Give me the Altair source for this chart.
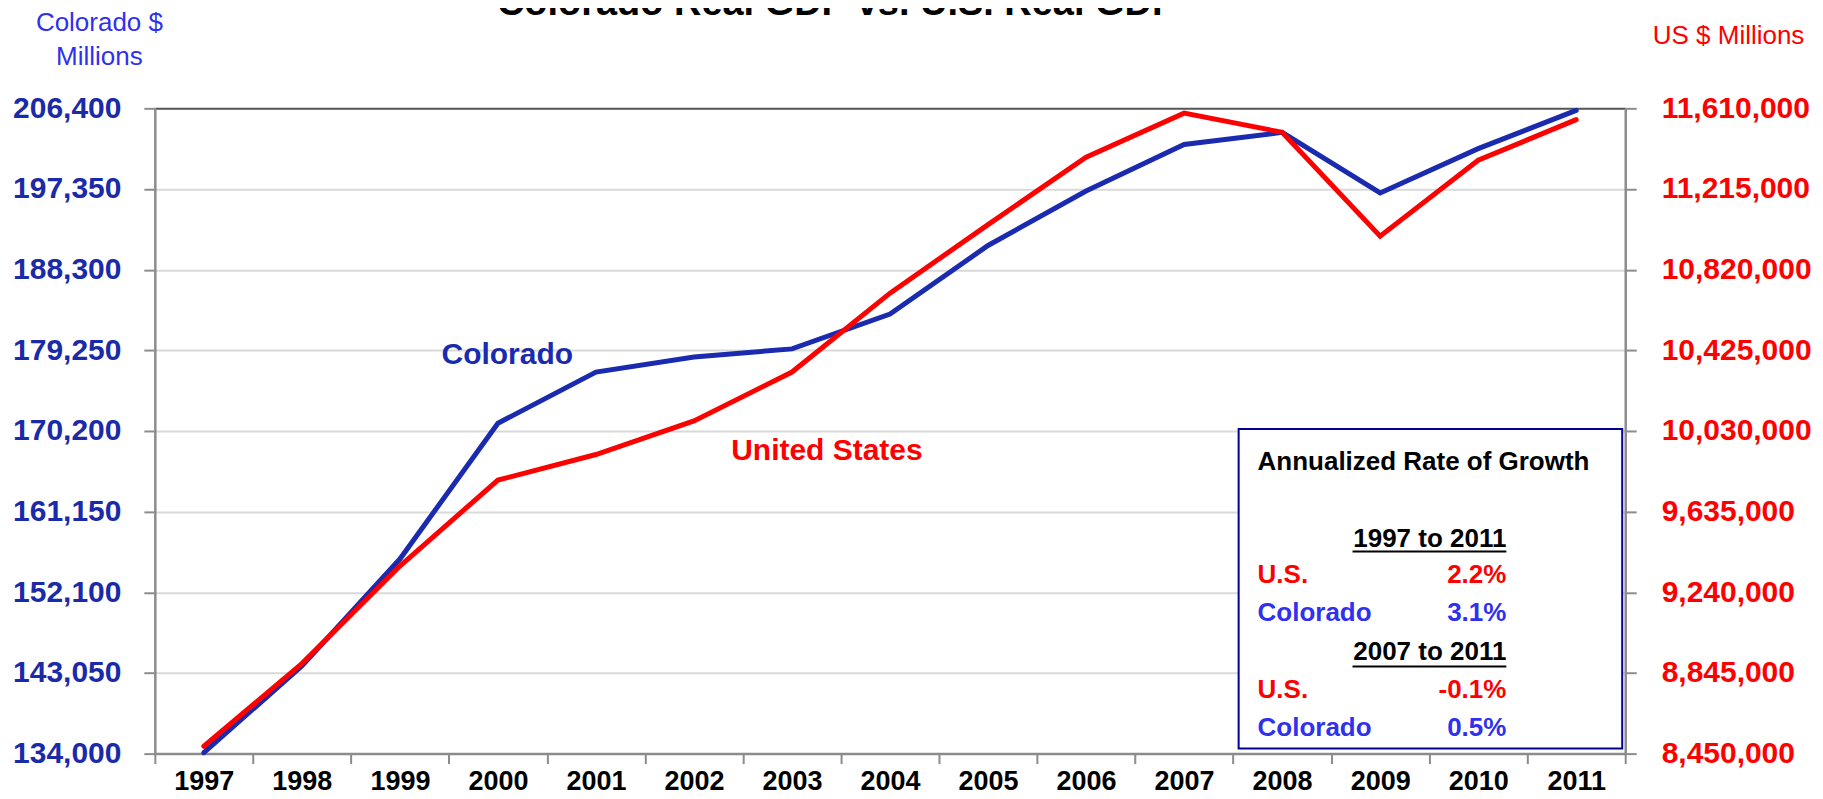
import altair as alt
import pandas as pd

# ---------------- data ----------------
years = [1997, 1998, 1999, 2000, 2001, 2002, 2003, 2004, 2005, 2006, 2007, 2008, 2009, 2010, 2011]
colorado_gdp = [134100, 143840, 155830, 171070, 176810, 178500, 179410, 183320,
                191010, 197130, 202340, 203700, 196900, 201880, 206170]
us_gdp = [8486000, 8891000, 9368600, 9789300, 9914600, 10079400, 10318600, 10705000,
          11040600, 11370300, 11586500, 11492600, 10983800, 11355600, 11554700]

left_ticks = [134000, 143050, 152100, 161150, 170200, 179250, 188300, 197350, 206400]
right_ticks = [8450000, 8845000, 9240000, 9635000, 10030000, 10425000, 10820000, 11215000, 11610000]

title_text = "Colorado Real GDP vs. U.S. Real GDP"
box_title = "Annualized Rate of Growth"
period_labels = ["1997 to 2011", "2007 to 2011"]
row_names = ["U.S.", "Colorado", "U.S.", "Colorado"]
row_rates = ["2.2%", "3.1%", "-0.1%", "0.5%"]

df = pd.DataFrame({"year": years, "colorado": colorado_gdp, "us": us_gdp})

FONT = "Liberation Sans"
DARK_BLUE = "#1A2BB0"
BLUE = "#3030F0"
RED = "#FF0000"
GRAY = "#8C8C8C"

W, H = 1472, 646

x_enc = alt.X(
    "year:O",
    bandPosition=0.5,
    scale=alt.Scale(type="band", paddingInner=0, paddingOuter=0),
    axis=alt.Axis(
        tickBand="extent", labelAngle=0,
        labelFont=FONT, labelFontSize=27, labelFontWeight="bold", labelColor="black",
        labelBaseline="alphabetic", labelPadding=26, labelOverlap=False,
        tickSize=10, tickColor=GRAY, tickWidth=2,
        domainColor=GRAY, domainWidth=2.5, grid=False, title=None,
    ),
)

co_line = alt.Chart(df).mark_line(color=DARK_BLUE, strokeWidth=5, strokeCap="round", strokeJoin="miter").encode(
    x=x_enc,
    y=alt.Y(
        "colorado:Q",
        scale=alt.Scale(domain=[134000, 206400], nice=False, zero=False),
        axis=alt.Axis(
            orient="left", values=left_ticks, format=",d",
            labelFont=FONT, labelFontSize=30, labelFontWeight="bold", labelColor="#1A2AA8",
            labelPadding=23, tickSize=11, tickColor=GRAY, tickWidth=2,
            domainColor=GRAY, domainWidth=2.5,
            grid=True, gridWidth=2,
            gridColor={"condition": {"test": "datum.value >= 206400", "value": "#555555"}, "value": "#D9D9D9"},
            title=["Colorado $", "Millions"], titleAngle=0, titleX=-56, titleY=-78,
            titleAlign="center", titleBaseline="alphabetic", titleFont=FONT, titleFontSize=26,
            titleFontWeight="normal", titleColor=BLUE, titleLineHeight=34,
        ),
    ),
)

us_line = alt.Chart(df).mark_line(color=RED, strokeWidth=5, strokeCap="round", strokeJoin="miter").encode(
    x=x_enc,
    y=alt.Y(
        "us:Q",
        scale=alt.Scale(domain=[8450000, 11610000], nice=False, zero=False),
        axis=alt.Axis(
            orient="right", values=right_ticks, format=",d",
            labelFont=FONT, labelFontSize=30, labelFontWeight="bold", labelColor=RED,
            labelPadding=25, tickSize=11, tickColor=GRAY, tickWidth=2,
            domainColor=GRAY, domainWidth=2.5, grid=False,
            title="US $ Millions", titleAngle=0, titleX=103, titleY=-65,
            titleAlign="center", titleBaseline="alphabetic", titleFont=FONT, titleFontSize=26,
            titleFontWeight="normal", titleColor=RED,
        ),
    ),
)


def txt(text, x, y, color, size, weight="bold", align="left"):
    return alt.Chart(pd.DataFrame({"t": [text]})).mark_text(
        font=FONT, fontSize=size, fontWeight=weight, color=color, align=align, baseline="alphabetic"
    ).encode(text="t:N", x=alt.value(x), y=alt.value(y))


def hrule(x1, x2, y):
    return alt.Chart(pd.DataFrame({"a": [0]})).mark_rule(color="black", strokeWidth=2).encode(
        x=alt.value(x1), x2=alt.value(x2), y=alt.value(y)
    )


box = alt.Chart(pd.DataFrame({"a": [0]})).mark_rect(fill="white", stroke="#000099", strokeWidth=2).encode(
    x=alt.value(1085), x2=alt.value(1469), y=alt.value(321), y2=alt.value(641)
)

layers = [
    co_line, us_line, box,
    txt(title_text, 683, -93, "black", 38, align="center"),
    txt("Colorado", 287, 256, DARK_BLUE, 30),
    txt("United States", 577, 352, RED, 30),
    txt(box_title, 1104, 362, "black", 26),
    txt(period_labels[0], 1353, 438.7, "black", 26, align="right"),
    hrule(1199, 1353, 443.7),
    txt(row_names[0], 1104, 475, RED, 26),
    txt(row_rates[0], 1353, 475, RED, 26, align="right"),
    txt(row_names[1], 1104, 513.7, BLUE, 26),
    txt(row_rates[1], 1353, 513.7, BLUE, 26, align="right"),
    txt(period_labels[1], 1353, 552.7, "black", 26, align="right"),
    hrule(1199, 1353, 558.7),
    txt(row_names[2], 1104, 590, RED, 26),
    txt(row_rates[2], 1353, 590, RED, 26, align="right"),
    txt(row_names[3], 1104, 628.7, BLUE, 26),
    txt(row_rates[3], 1353, 628.7, BLUE, 26, align="right"),
]

chart = (
    alt.layer(*layers)
    .resolve_scale(y="independent")
    .properties(
        width=W, height=H,
        padding={"left": 147, "top": 100, "right": 190, "bottom": 45},
        autosize=alt.AutoSizeParams(type="none"),
        background="white",
    )
    .configure_view(stroke=None)
)

chart.save("out.html", embed_options={"renderer": "svg", "actions": False})
